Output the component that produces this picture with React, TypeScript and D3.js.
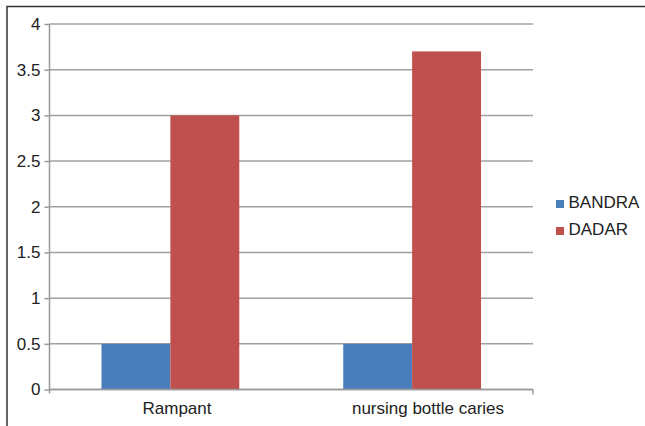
import { useEffect, useRef } from "react";
import { axisLeft, scaleBand, scaleLinear, select } from "d3";

const categories = ["Rampant", "nursing bottle caries"];
const seriesNames = ["BANDRA", "DADAR"];
const bandra = [0.5, 0.5];
const dadar = [3.0, 3.7];
const yTicks = [0, 0.5, 1, 1.5, 2, 2.5, 3, 3.5, 4];
const colors = ["#4a7ebb", "#c0504d"];

const width = 645;
const height = 426;
const marginLeft = 49.5;
const plotRight = 533;
const marginTop = 24;
const plotBottom = 389.5;
const font = "'Liberation Sans', Arial, sans-serif";

export default function App() {
  const gy = useRef<SVGGElement>(null);

  const y = scaleLinear([0, 4], [plotBottom, marginTop]);
  const x = scaleBand(categories, [marginLeft, plotRight]).paddingInner(0.43).paddingOuter(0.215);
  const xs = scaleBand(seriesNames, [0, x.bandwidth()]);
  // category labels sit a bit right of the bar groups in the original
  const xl = scaleBand(categories, [51.5, 553.5]);
  const values = [bandra, dadar];

  useEffect(() => {
    const g = select(gy.current);
    g.call(
      axisLeft(y)
        .tickValues(yTicks)
        .tickSize(5)
        .tickPadding(4)
        .tickFormat((d) => String(d)) as any
    );
    g.select(".domain").remove();
    g.selectAll(".tick line").attr("stroke", "#999").attr("stroke-width", 1.5);
    g.selectAll(".tick text")
      .attr("fill", "#222")
      .style("font-size", "17px")
      .style("font-family", font);
  }, [y]);

  return (
    <svg
      width={width}
      height={height}
      style={{ position: "absolute", left: 0, top: 0 }}
    >
      <rect x={0} y={0} width={width} height={height} fill="#fff" />
      <path d={`M7,${height + 2}V6.5H${width + 2}`} fill="none" stroke="#333" strokeWidth={1.5} />

      {yTicks.map((t) => (
        <line
          key={t}
          x1={marginLeft}
          x2={plotRight}
          y1={y(t)}
          y2={y(t)}
          stroke="#a0a0a0"
          strokeWidth={1.5}
        />
      ))}

      {categories.map((c, i) => (
        <g key={c} transform={`translate(${x(c)},0)`}>
          {seriesNames.map((s, j) => (
            <rect
              key={s}
              x={xs(s)}
              y={y(values[j][i])}
              width={xs.bandwidth()}
              height={y(0) - y(values[j][i])}
              fill={colors[j]}
            />
          ))}
        </g>
      ))}

      {categories.map((c) => (
        <text
          key={c}
          x={(xl(c) ?? 0) + xl.bandwidth() / 2}
          y={414}
          textAnchor="middle"
          fontSize={17}
          fontFamily={font}
          fill="#222"
        >
          {c}
        </text>
      ))}

      <line x1={marginLeft} x2={marginLeft} y1={marginTop} y2={plotBottom + 4} stroke="#999" strokeWidth={1.5} />
      <line x1={marginLeft} x2={plotRight} y1={plotBottom} y2={plotBottom} stroke="#999" strokeWidth={1.5} />
      <line x1={plotRight} x2={plotRight} y1={plotBottom} y2={plotBottom + 5} stroke="#999" strokeWidth={1.5} />

      <g ref={gy} transform={`translate(${marginLeft},0)`} />

      {seriesNames.map((s, j) => (
        <g key={s} transform={`translate(556,${200 + j * 27})`}>
          <rect x={0} y={0} width={8} height={8} fill={colors[j]} />
          <text x={12.5} y={8} fontSize={17} fontFamily={font} fill="#222">
            {s}
          </text>
        </g>
      ))}
    </svg>
  );
}
